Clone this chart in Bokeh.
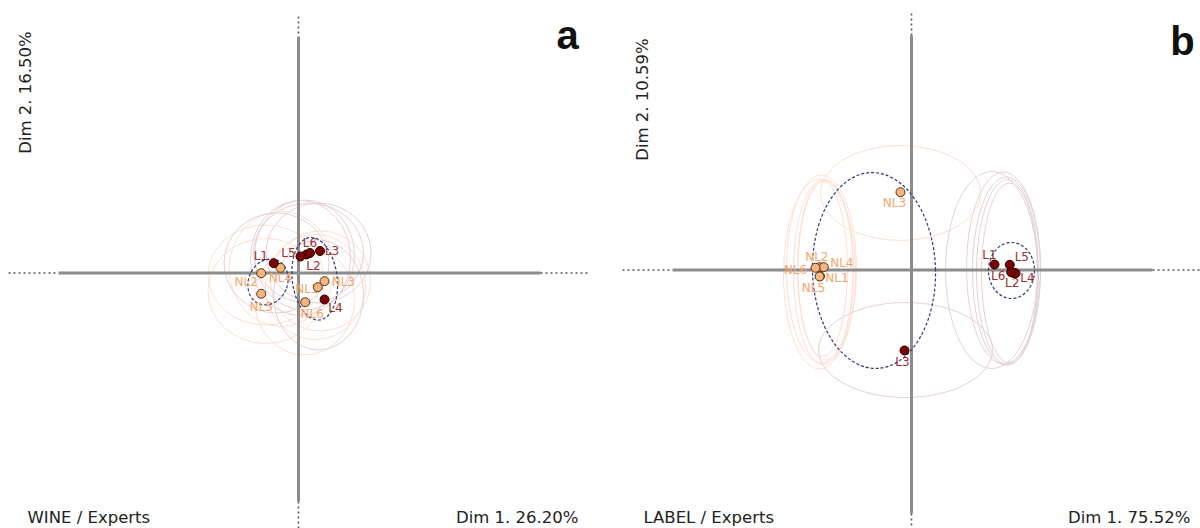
import math
from bokeh.plotting import figure
from bokeh.layouts import row
from bokeh.models import ColumnDataSource, Label, Range1d
from bokeh.core.properties import value
from bokeh.embed import file_html
from bokeh.resources import INLINE

# ---------------- data: panel a (WINE / Experts) ----------------
a_L_names = ["L1", "L2", "L3", "L4", "L5", "L6"]
a_L_x = [-0.247, 0.080, 0.215, 0.260, 0.020, 0.115]
a_L_y = [0.098, 0.185, 0.220, -0.265, 0.165, 0.200]

a_NL_names = ["NL1", "NL2", "NL3", "NL4", "NL5", "NL6"]
a_NL_x = [0.193, -0.373, 0.260, -0.180, -0.373, 0.067]
a_NL_y = [-0.142, -0.002, -0.082, 0.052, -0.208, -0.292]

# confidence ellipses (individual products) panel a
a_L_ell_x = [-0.22, 0.06, 0.20, 0.20, 0.02, 0.10]
a_L_ell_y = [0.10, 0.18, 0.20, -0.22, 0.15, 0.20]
a_L_ell_w = [1.05, 1.00, 1.05, 0.90, 1.00, 1.10]
a_L_ell_h = [1.00, 1.10, 1.00, 1.10, 1.15, 1.00]

a_NL_ell_x = [0.17, -0.33, 0.22, -0.17, -0.33, 0.06]
a_NL_ell_y = [-0.14, -0.02, -0.08, 0.04, -0.18, -0.27]
a_NL_ell_w = [1.00, 1.15, 1.00, 1.05, 1.15, 1.00]
a_NL_ell_h = [1.05, 1.00, 1.00, 1.15, 1.05, 1.10]

# group ellipses panel a
a_grp_x = [-0.305, 0.162]
a_grp_y = [-0.090, -0.058]
a_grp_w = [0.39, 0.45]
a_grp_h = [0.47, 0.83]
a_grp_angle = [-0.40, 0.12]

# ---------------- data: panel b (LABEL / Experts) ----------------
b_L_names = ["L1", "L2", "L3", "L4", "L5", "L6"]
b_L_x = [0.830, 1.017, -0.070, 1.040, 0.983, 0.997]
b_L_y = [0.055, -0.028, -0.805, -0.032, 0.052, -0.022]

b_NL_names = ["NL1", "NL2", "NL3", "NL4", "NL5", "NL6"]
b_NL_x = [-0.915, -0.917, -0.110, -0.877, -0.920, -0.960]
b_NL_y = [-0.062, 0.028, 0.778, 0.028, -0.065, 0.022]

b_L_ell_x = [0.800, 0.960, -0.060, 0.980, 0.920, 0.950]
b_L_ell_y = [0.000, -0.020, -0.800, -0.030, 0.020, -0.010]
b_L_ell_w = [0.92, 0.62, 1.74, 0.56, 0.74, 0.68]
b_L_ell_h = [1.97, 1.85, 0.95, 1.80, 1.92, 1.88]

b_NL_ell_x = [-0.880, -0.900, -0.110, -0.860, -0.920, -0.890]
b_NL_ell_y = [-0.020, 0.010, 0.770, 0.000, -0.040, 0.010]
b_NL_ell_w = [0.60, 0.70, 1.60, 0.55, 0.72, 0.50]
b_NL_ell_h = [1.85, 1.88, 0.95, 1.80, 1.90, 1.75]

b_grp_x = [-0.375, 1.000]
b_grp_y = [-0.005, -0.005]
b_grp_w = [1.23, 0.46]
b_grp_h = [1.96, 0.56]
b_grp_angle = [0.03, 0.0]

# label offsets (screen px)
a_L_off = {"L1": (-13, -7), "L2": (7, 11), "L3": (12, 0), "L4": (11, 8), "L5": (-12, -4), "L6": (0, -10)}
a_NL_off = {"NL1": (-11, 2), "NL2": (-15, 9), "NL3": (19, 1), "NL4": (0, 10), "NL5": (0, 13), "NL6": (7, 12)}
b_L_off = {"L1": (-5, -10), "L2": (-1, 10), "L3": (-2, 11), "L4": (12, 5), "L5": (12, -8), "L6": (-13, 4)}
b_NL_off = {"NL1": (17, 2), "NL2": (-3, -10), "NL3": (-6, 11), "NL4": (18, -4), "NL5": (-6, 11), "NL6": (-20, 2)}

FONT = "DejaVu Sans"
L_FILL, L_LINE, L_TEXT = "#7a0505", "#2a0000", "#9b2f2f"
NL_FILL, NL_LINE, NL_TEXT = "#f7b47c", "#4a3420", "#f5a56b"
L_ELL, NL_ELL = "#e4d0d4", "#fbe0d2"
GRP = "#2d3a78"
AXIS = "#8c8c8c"
DOT = "#555555"


def panel(xr, yr, hseg, vseg, L, NL, Lell, NLell, grp, Loff, NLoff,
          tag, tag_xy, ylab, ylab_xy, blab, blab_x, dimlab, dimlab_x):
    p = figure(width=600, height=528, output_backend="svg", toolbar_location=None,
               x_range=Range1d(*xr), y_range=Range1d(*yr),
               min_border=0, outline_line_color=None)
    p.axis.visible = False
    p.grid.visible = False
    p.background_fill_color = "white"

    # faint individual ellipses
    for (ex, ey, ew, eh), col in ((NLell, NL_ELL), (Lell, L_ELL)):
        p.ellipse(x=ex, y=ey, width=ew, height=eh, fill_color=None,
                  line_color=col, line_width=1)

    # axes: solid part and dotted extensions
    (hx0, hx1, hs0, hs1) = hseg
    (vy0, vy1, vs0, vs1) = vseg
    p.segment(x0=[hs0, 0], y0=[0, vs0], x1=[hs1, 0], y1=[0, vs1],
              line_color=AXIS, line_width=3)
    p.segment(x0=[hx0, hs1], y0=[0, 0], x1=[hs0, hx1], y1=[0, 0],
              line_color=DOT, line_width=1.6, line_dash="2 3")
    p.segment(x0=[0, 0], y0=[vy0, vs1], x1=[0, 0], y1=[vs0, vy1],
              line_color=DOT, line_width=1.6, line_dash="2 3")

    # group ellipses
    gx, gy, gw, gh, ga = grp
    p.ellipse(x=gx, y=gy, width=gw, height=gh, angle=ga, fill_color=None,
              line_color=GRP, line_width=1.2, line_dash="3 2")

    # labels
    for (names, xs, ys), off, col in ((NL, NLoff, NL_TEXT), (L, Loff, L_TEXT)):
        src = ColumnDataSource(dict(x=xs, y=ys, t=names,
                                    xo=[off[n][0] for n in names],
                                    yo=[off[n][1] for n in names]))
        p.text(x="x", y="y", text="t", x_offset="xo", y_offset="yo", source=src,
               text_font=value(FONT), text_font_size="12px", text_color=col,
               text_align="center", text_baseline="middle")

    # points
    for (names, xs, ys), fc, lc in ((NL, NL_FILL, NL_LINE), (L, L_FILL, L_LINE)):
        p.scatter(x=xs, y=ys, size=9, fill_color=fc, line_color=lc, line_width=1)

    p.add_layout(Label(x=tag_xy[0], y=tag_xy[1], x_units="screen", y_units="screen",
                       text=tag, text_font="Liberation Sans", text_font_style="bold",
                       text_font_size="40px", text_color="#111111",
                       text_align="center", text_baseline="middle"))
    p.add_layout(Label(x=ylab_xy[0], y=ylab_xy[1], x_units="screen", y_units="screen",
                       text=ylab, angle=math.pi / 2, text_font=FONT,
                       text_font_size="16.5px", text_color="#222222",
                       text_align="center", text_baseline="middle"))
    p.add_layout(Label(x=blab_x, y=11, x_units="screen", y_units="screen",
                       text=blab, text_font=FONT, text_font_size="16.5px",
                       text_color="#222222", text_align="left", text_baseline="middle"))
    p.add_layout(Label(x=dimlab_x, y=11, x_units="screen", y_units="screen",
                       text=dimlab, text_font=FONT, text_font_size="16.5px",
                       text_color="#222222", text_align="right", text_baseline="middle"))
    return p


pa = panel(xr=(-2.98, 3.02), yr=(-2.555, 2.725),
           hseg=(-2.90, 2.92, -2.40, 2.42), vseg=(2.565, -2.555, 2.365, -2.285),
           L=(a_L_names, a_L_x, a_L_y), NL=(a_NL_names, a_NL_x, a_NL_y),
           Lell=(a_L_ell_x, a_L_ell_y, a_L_ell_w, a_L_ell_h),
           NLell=(a_NL_ell_x, a_NL_ell_y, a_NL_ell_w, a_NL_ell_h),
           grp=(a_grp_x, a_grp_y, a_grp_w, a_grp_h, a_grp_angle),
           Loff=a_L_off, NLoff=a_NL_off,
           tag="a", tag_xy=(567, 494), ylab="Dim 2. 16.50%", ylab_xy=(25, 436),
           blab="WINE / Experts", blab_x=27, dimlab="Dim 1. 26.20%", dimlab_x=578)

pb = panel(xr=(-3.11, 2.89), yr=(-2.585, 2.695),
           hseg=(-2.89, 2.89, -2.39, 2.41), vseg=(2.565, -2.585, 2.345, -2.435),
           L=(b_L_names, b_L_x, b_L_y), NL=(b_NL_names, b_NL_x, b_NL_y),
           Lell=(b_L_ell_x, b_L_ell_y, b_L_ell_w, b_L_ell_h),
           NLell=(b_NL_ell_x, b_NL_ell_y, b_NL_ell_w, b_NL_ell_h),
           grp=(b_grp_x, b_grp_y, b_grp_w, b_grp_h, b_grp_angle),
           Loff=b_L_off, NLoff=b_NL_off,
           tag="b", tag_xy=(582, 488), ylab="Dim 2. 10.59%", ylab_xy=(42, 429),
           blab="LABEL / Experts", blab_x=43, dimlab="Dim 1. 75.52%", dimlab_x=590)

layout = row(pa, pb, spacing=0)
open("out.html", "w").write(file_html(layout, INLINE))
